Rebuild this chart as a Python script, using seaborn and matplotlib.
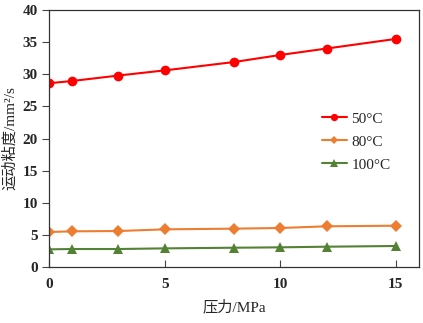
import matplotlib
matplotlib.use("Agg")
import matplotlib.pyplot as plt
import seaborn as sns
import pandas as pd

# Pressure (MPa) and kinematic viscosity (mm²/s) at three temperatures
pressure = [0, 1, 3, 5, 8, 10, 12, 15]
visc_50 = [28.6, 28.95, 29.8, 30.6, 31.9, 33.0, 34.0, 35.5]
visc_80 = [5.45, 5.55, 5.6, 5.86, 5.97, 6.07, 6.33, 6.43]
visc_100 = [2.75, 2.8, 2.8, 2.9, 3.0, 3.06, 3.16, 3.27]
labels = ["50°C", "80°C", "100°C"]
x_ticks = [0, 5, 10, 15]
y_ticks = [0, 5, 10, 15, 20, 25, 30, 35, 40]

sns.set_theme(style="white")
plt.rcParams["font.family"] = ["Liberation Serif", "Noto Sans CJK SC", "DejaVu Sans"]

df = pd.DataFrame({
    "pressure": pressure * 3,
    "visc": visc_50 + visc_80 + visc_100,
    "temp": [labels[0]] * 8 + [labels[1]] * 8 + [labels[2]] * 8,
})

fig = plt.figure(figsize=(4.23, 3.23), dpi=100)
ax = fig.add_axes([49 / 423, 1 - 267 / 323, 370 / 423, 257 / 323])

palette = {labels[0]: "#FF0000", labels[1]: "#ED7D31", labels[2]: "#548235"}
markers = {labels[0]: "o", labels[1]: "D", labels[2]: "^"}
sizes = {labels[0]: 7, labels[1]: 6, labels[2]: 7}
for t in labels:
    sub = df[df["temp"] == t]
    sns.lineplot(data=sub, x="pressure", y="visc", ax=ax, color=palette[t],
                 marker=markers[t], markersize=sizes[t], markeredgewidth=0,
                 linewidth=1.5, label=t)

ax.set_xlim(0, 16)
ax.set_ylim(0, 40)
ax.set_xticks(x_ticks)
ax.set_yticks(y_ticks)
for lbl in ax.get_xticklabels() + ax.get_yticklabels():
    lbl.set_fontweight("bold")
    lbl.set_fontsize(11)
ax.tick_params(axis="x", direction="in", length=5, width=0.8, color="#444444", pad=8)
ax.tick_params(axis="y", direction="out", length=5, width=0.8, color="#444444", pad=3)
ax.tick_params(left=True, bottom=True)
for s in ax.spines.values():
    s.set_color("#333333")
    s.set_linewidth(0.9)

ax.set_xlabel("压力/MPa", fontsize=11, labelpad=6)
ax.set_ylabel("运动粘度/mm²/s", fontsize=11, labelpad=4)

leg = ax.legend(loc="center right", bbox_to_anchor=(0.96, 0.487), frameon=False,
                fontsize=11, handlelength=1.65, labelspacing=0.6, handletextpad=0.3,
                markerscale=0.75)

fig.savefig("out.png", dpi=100)
